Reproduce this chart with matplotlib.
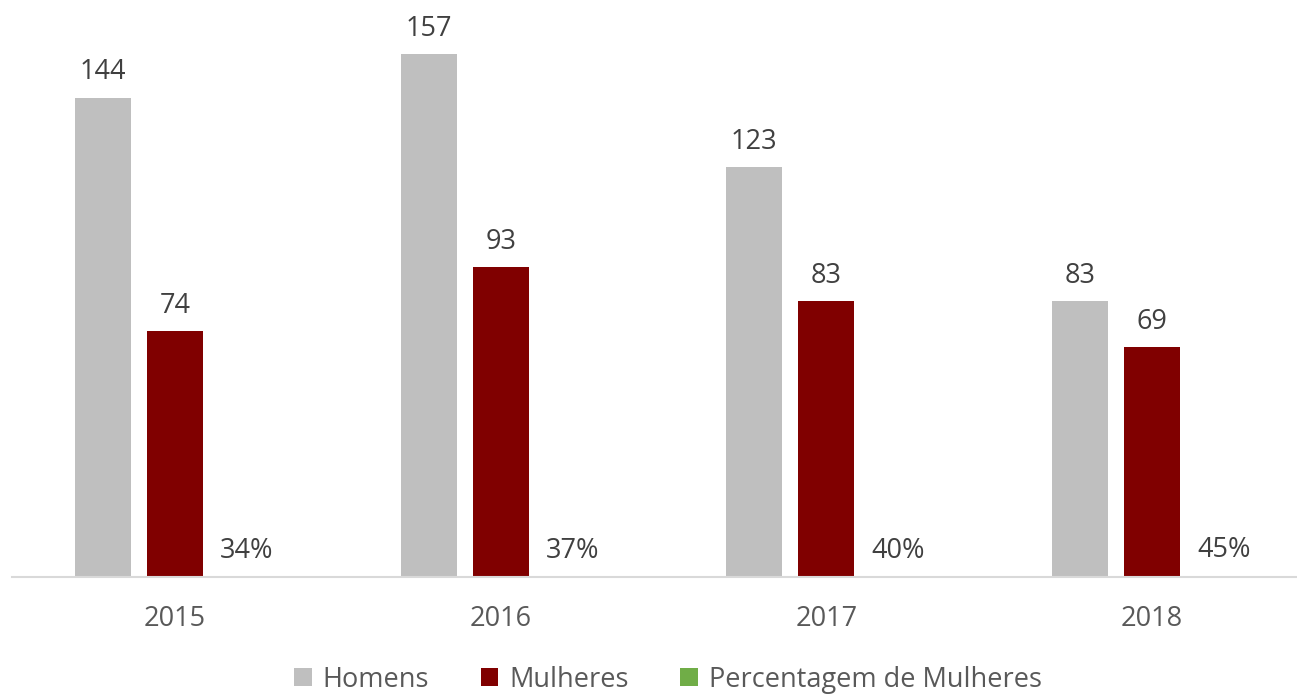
import matplotlib
matplotlib.use('Agg')
from matplotlib import pyplot as plt
import numpy as np

plt.rcParams['font.family'] = ['Open Sans', 'DejaVu Sans']

# %% data
anos = ['2015', '2016', '2017', '2018']
homens = [144, 157, 123, 83]
mulheres = [74, 93, 83, 69]
pct_mulheres = [0.34, 0.37, 0.40, 0.45]

# %% plot
fig = plt.figure(figsize=(12.97, 6.94), dpi=100)
ax = fig.add_axes([12/1297, 117/694, 1285/1297, 566/694])

x = np.arange(len(anos))
w = 0.172
d = 0.221
b1 = ax.bar(x - d, homens, w, color='#BFBFBF', label='Homens')
b2 = ax.bar(x, mulheres, w, color='#800000', label='Mulheres')
b3 = ax.bar(x + d, pct_mulheres, w, color='#70AD47', label='Percentagem de Mulheres')

fs = 19.5
for bars, vals in [(b1, homens), (b2, mulheres)]:
    for r, v in zip(bars, vals):
        ax.annotate(str(v), (r.get_x() + r.get_width()/2, r.get_height()),
                    xytext=(0, 8), textcoords='offset points',
                    ha='center', va='bottom', fontsize=fs, color='#404040')
for r, v in zip(b3, pct_mulheres):
    ax.annotate('{:.0f}%'.format(v*100), (r.get_x() + r.get_width()/2, r.get_height()),
                xytext=(0, 8), textcoords='offset points',
                ha='center', va='bottom', fontsize=fs, color='#404040')

ax.set_xlim(-0.5, 3.5 - 18/325.7)
ax.set_ylim(0, 170)
ax.set_xticks(x)
ax.set_xticklabels(anos, fontsize=fs, color='#595959')
ax.tick_params(axis='x', length=0, pad=20)
ax.set_yticks([])
for s in ['top', 'right', 'left']:
    ax.spines[s].set_visible(False)
ax.spines['bottom'].set_color('#D9D9D9')
ax.spines['bottom'].set_linewidth(1.5)

fig.legend(loc='lower center', bbox_to_anchor=(668/1297, -0.035), ncol=3,
           frameon=False, fontsize=fs, handlelength=0.65, handleheight=0.65,
           handletextpad=0.4, columnspacing=1.9, labelcolor='#595959')

fig.savefig('out.png', dpi=100)
